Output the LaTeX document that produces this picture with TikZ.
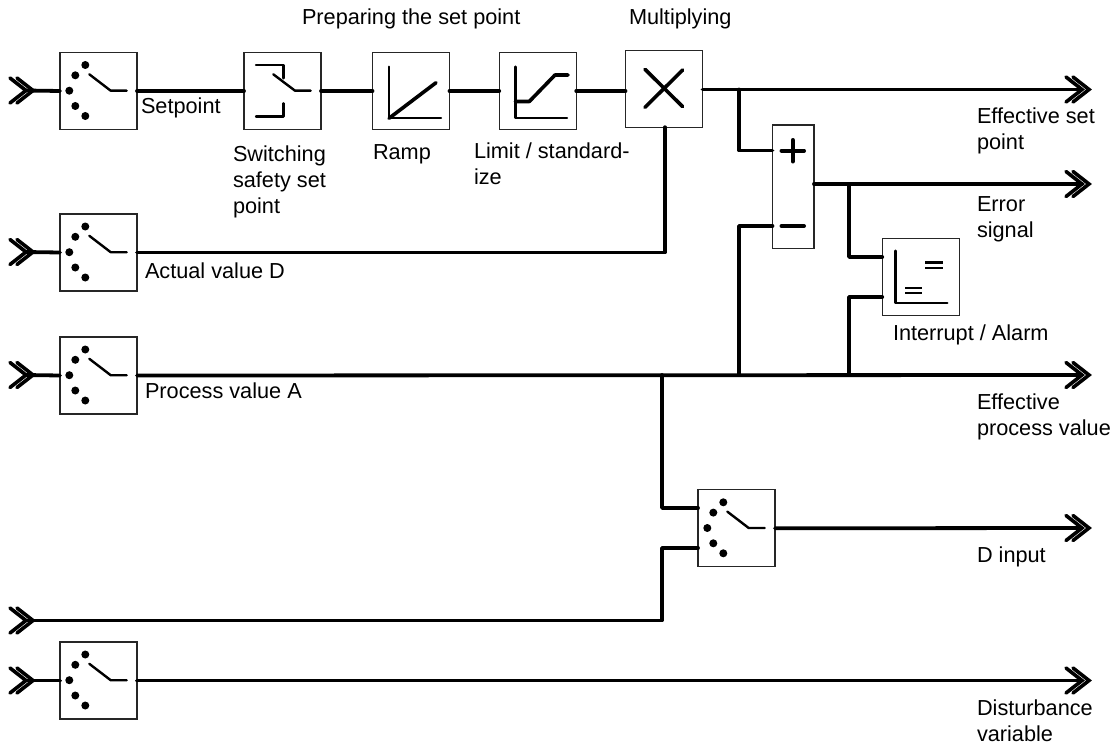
\documentclass[tikz,border=0pt]{standalone}
\usepackage{fontspec}
\setmainfont{Liberation Sans}
\newcommand{\chevs}[1]{%
  \draw[chev] ($(#1)+(-16,-12.5)$) -- (#1) -- ($(#1)+(-16,12.5)$);
  \draw[chev] ($(#1)+(-9,-12.5)$) -- ($(#1)+(7,0)$) -- ($(#1)+(-9,12.5)$);}
\newcommand{\swicon}[1]{%
  \begin{scope}[shift={(#1.north west)}]
    \foreach \a/\b in {25.3/12.5,15.3/22.8,9.3/38.2,15.3/53.5,25.3/63.5}
      \fill (\a,\b) circle (4);
    \draw[icon] (29.3,21.8) -- (50.7,38.2) -- (66.7,38.2);
  \end{scope}}
\usetikzlibrary{calc}
\tikzset{
  x=1pt,y=-1pt,
  blk/.style={draw=black!85,line width=1.1pt,minimum size=77pt,inner sep=0pt,outer sep=0pt},
  sig/.style={line width=3.8pt,line cap=round,line join=round},
  icon/.style={line width=2.4pt,line cap=round,line join=round},
  iconb/.style={line width=3.6pt,line cap=round,line join=round},
  chev/.style={line width=3.6pt,line cap=round,line join=miter},
  lbl/.style={anchor=north west,inner sep=0pt,outer sep=0pt,align=left,
    font=\fontsize{21.7}{26}\selectfont},
}
\begin{document}
\begin{tikzpicture}
\useasboundingbox (0,0) rectangle (1115,749);
% blocks
\node[blk] (sw1) at (98.5,91) {};
\node[blk] (safe) at (282.5,91) {};
\node[blk] (ramp) at (411,91) {};
\node[blk] (lim) at (537.7,91) {};
\node[blk] (mult) at (664,88.7) {};
\node[blk,minimum width=41.5pt,minimum height=123.5pt] (sum) at (793.2,186.7) {};
\node[blk] (alarm) at (920.7,277.2) {};
\node[blk] (sw2) at (98.5,252.5) {};
\node[blk] (sw3) at (98.5,375.5) {};
\node[blk] (sw4) at (736.5,528.3) {};
\node[blk] (sw5) at (98.5,680.5) {};
% free ends
\coordinate (in1) at (26,90.5);
\coordinate (in2) at (26,252);
\coordinate (in3) at (26,375);
\coordinate (in4) at (26,620.5);
\coordinate (in5) at (26,680.5);
\coordinate (out1) at (1082,89.5);
\coordinate (out2) at (1082,184);
\coordinate (out3) at (1082,375);
\coordinate (out4) at (1082,528);
\coordinate (out5) at (1082,680.5);
\coordinate (j1) at (739,89.5);
\coordinate (j2) at (849,184);
\coordinate (j3) at (739,375);
\coordinate (j4) at (849,375);
\coordinate (j5) at (662,375);
% connectors
\draw[sig] (in1) -- (sw1.west);
\draw[sig] (sw1.east) -- (safe.west);
\draw[sig] (safe.east) -- (ramp.west);
\draw[sig] (ramp.east) -- (lim.west);
\draw[sig] (lim.east) -- (lim.east -| mult.west);
\draw[sig] (mult.east |- j1) -- (out1);
\draw[sig] (j1) |- (sum.west |- 0,150.5);
\draw[sig] (j3) |- (sum.west |- 0,226);
\draw[sig] (sum.east |- j2) -- (out2);
\draw[sig] (j2) |- (alarm.west |- 0,257);
\draw[sig] (j4) |- (alarm.west |- 0,297);
\draw[sig] (in2) -- (sw2.west);
\draw[sig] (sw2.east) -| (mult.south -| 665,0);
\draw[sig] (in3) -- (sw3.west);
\draw[sig] (sw3.east) -- (out3);
\draw[sig] (j5) |- (sw4.west |- 0,508);
\draw[sig] (in4) -| (662,548) -- (sw4.west |- 0,548);
\draw[sig] (sw4.east) -- (out4);
\draw[sig] (in5) -- (sw5.west);
\draw[sig] (sw5.east) -- (out5);
% chevrons
\foreach \c in {in1,in2,in3,in4,in5,out1,out2,out3,out4,out5}{\chevs{\c}}
% switch icons
\foreach \n in {sw1,sw2,sw3,sw4,sw5}{\swicon{\n}}
% safety switch
\draw[icon] (256,65) -- (283.3,65) -- (283.3,78.3);
\draw[icon] (256,116.7) -- (283.3,116.7) -- (283.3,103.3);
\draw[icon] (273.3,74.3) -- (295,90.7) -- (310.7,90.7);
% ramp
\draw[icon] (389,66.7) -- (389,118.3) -- (441,118.3);
\draw[iconb] (389,118.3) -- (436,82.7);
% limit
\draw[icon] (515.3,66.7) -- (515.3,118.3) -- (567,118.3);
\draw[iconb] (515.3,101.5) -- (529.3,101.5) -- (555,75) -- (568,75);
% multiply
\draw[iconb] (645,69.3) -- (682.7,106.7);
\draw[iconb] (682.7,70) -- (645,107.3);
% sum
\draw[iconb,line width=4pt] (781.5,150.7) -- (804,150.7);
\draw[iconb,line width=4pt] (792.7,140) -- (792.7,161.5);
\draw[iconb,line width=4pt] (781.5,226) -- (804,226);
% alarm
\draw[icon] (895.3,250.7) -- (895.3,302.7) -- (947.3,302.7);
\draw[icon,line cap=butt] (925.3,262.3) -- (942.7,262.3);
\draw[icon,line cap=butt] (925.3,268) -- (942.7,268);
\draw[icon,line cap=butt] (905,287.7) -- (922,287.7);
\draw[icon,line cap=butt] (905,293) -- (922,293);
% labels
\node[lbl] (t1) at (302,6.8) {\strut Preparing the set point};
\node[lbl] (t2) at (629,6.8) {\strut Multiplying};
\node[lbl] (t3) at (141,95.8) {\strut Setpoint};
\node[lbl] (t4) at (233,142.8) {\strut Switching\\safety set\\point};
\node[lbl] (t5) at (373,140.8) {\strut Ramp};
\node[lbl] (t6) at (474,140.3) {\strut Limit / standard-\\ize};
\node[lbl] (t7) at (145,259.8) {\strut Actual value D};
\node[lbl] (t8) at (145,379.8) {\strut Process value A};
\node[lbl] (t9) at (977,105.8) {\strut Effective set\\point};
\node[lbl] (t10) at (977,192.8) {\strut Error\\signal};
\node[lbl] (t11) at (893,321.8) {\strut Interrupt / Alarm};
\node[lbl] (t12) at (977,390.8) {\strut Effective\\process value};
\node[lbl] (t13) at (977,543.8) {\strut D input};
\node[lbl] (t14) at (977,696.8) {\strut Disturbance\\variable};
\end{tikzpicture}
\end{document}
